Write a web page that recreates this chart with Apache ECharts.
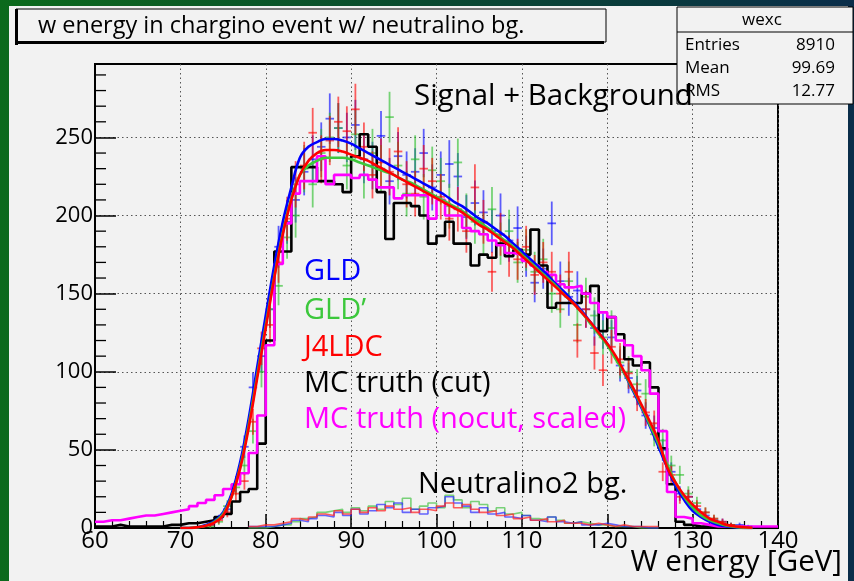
<!DOCTYPE html>
<html>
<head>
<meta charset="utf-8">
<script src="https://cdn.jsdelivr.net/npm/echarts@6/dist/echarts.min.js"></script>
<style>
html,body{margin:0;padding:0;background:#0a4a2a;}
#chart{width:854px;height:581px;}
</style>
</head>
<body>
<div id="chart"></div>
<script>
// ---------------- data ----------------
const binStart = 60;   // first bin left edge (GeV)
const binWidth = 1;    // GeV per bin
const xTickLabels = [60, 70, 80, 90, 100, 110, 120, 130, 140];
const yTickLabels = [0, 50, 100, 150, 200, 250];

// MC truth (cut), bins 60..139
const mcCut = [1,1,2,1,1,1,1,1,2,2, 3,3,4,5,7,9,17,23,25,54,
  120,177,177,231,231,231,222,222,220,215, 238,252,244,215,185,208,208,206,200,182,
  187,196,182,182,168,175,173,182,174,178, 175,191,168,141,144,144,144,150,155,126,
  135,124,108,104,106,90,51,28,4,2, 1,1,0,0,0,0,0,0,0,0];
// MC truth (nocut, scaled), bins 60..139
const mcNocut = [4,5,5,6,7,8,8,9,10,11, 12,14,16,18,21,25,28,35,48,72,
  117,169,195,214,222,222,238,220,226,226, 224,226,223,218,218,211,213,213,213,198,
  210,200,200,192,190,188,184,181,176,175, 171,168,164,162,156,154,155,150,144,138,
  135,120,117,110,101,86,62,23,7,6, 3,2,1,1,1,1,1,1,1,1];

// measured points (bin centres start+0.5), first bin 73
const ptsStart = 73;
const gldPts = [2,6,12,28,52,90,110,140,180,196, 210,228,236,244,262,256,250,258,236,232,
  251,222,238,226,228,240,218,226,233,225, 199,208,202,190,200,184,192,174,157,166,
  195,158,148,152,140,128,126,122,104,96, 88,72,64,50,36,22,20,12,8,5, 4,2,2,1];
const gldpPts = [1,4,14,26,40,62,100,140,155,186, 200,230,220,240,250,256,232,252,226,240,
  230,263,232,214,236,212,229,222,206,234, 200,196,188,204,182,190,170,178,164,172,
  150,140,158,130,148,136,122,128,106,100, 92,86,60,56,40,34,22,16,10,6, 3,2,1,0];
const j4Pts = [2,5,10,22,30,68,115,130,170,198, 220,232,253,236,248,260,254,268,244,226,
  234,228,241,220,214,230,222,212,198,204, 190,218,196,164,188,174,172,180,162,170,
  164,150,164,120,140,112,101,116,108,99, 84,74,67,36,34,20,20,14,10,6, 4,2,1,0];

// fitted curves, values at integer GeV from 70
const fitStart = 70;
const gldFit = [0,0,0.5,2,4.5,10,22,42,70,103, 136,168,196,218,237,244,247,249,249,248,
  246,243,240,237,234,231,228,225,222,219, 216,213,209,206,202,198,195,191,187,182,
  177,172,167,162,156,151,145,139,132,125, 118,109,99,88,77,65,52,39,27,18,
  11,7,4,2,1,0.5,0,0];
const gldpFit = [0,0,0.5,1.5,4,9,20,39,66,98, 130,161,189,211,226,232,235,237,237,237,
  236,234,232,230,228,226,223,221,218,215, 212,209,206,203,199,196,192,188,184,180,
  175,170,165,160,155,149,144,138,131,124, 117,108,99,89,78,66,54,41,29,20,
  13,8,5,3,1.5,0.7,0.2,0];
const j4Fit = [0,0,0.5,1.5,3.5,8,20,38,64,96, 128,160,188,210,226,235,240,242,242,241,
  239,237,235,232,229,226,223,220,217,214, 211,208,205,202,198,194,191,187,183,179,
  174,169,164,159,154,149,144,138,132,125, 118,110,100,90,79,68,56,39,29,21,
  15,10,6,4,2,1,0.5,0.2];

// Neutralino2 background histograms, first bin 78
const bgStart = 78;
const bgGld = [1,1,1,2,3,5,4,6,8,7, 10,8,12,9,11,15,13,16,10,12, 9,13,14,20,16,14,10,13,9,10,
  7,6,8,5,4,7,4,3,4,2, 2,3,2,1,1,1,0,0];
const bgGldp = [0,0,1,2,2,4,6,7,10,11, 12,10,13,11,14,12,17,15,19,12, 14,16,13,21,18,13,17,15,11,13,
  9,10,8,6,5,7,5,3,4,3, 2,2,1,1,1,0,0,0];
const bgJ4 = [1,2,2,3,4,6,5,7,9,8, 11,9,12,10,13,11,14,12,13,10, 12,11,14,16,13,15,12,10,11,8,
  9,6,7,5,6,4,5,3,3,2, 3,2,1,2,1,1,1,1];

const yMinorTicks = [10,20,30,40,60,70,80,90,110,120,130,140,160,170,180,190,210,220,230,240,260,270,280,290];

// ---------------- helpers ----------------
function histData(start, vals) {
  const d = vals.map((v, i) => [start + i * binWidth, v]);
  d.push([start + vals.length * binWidth, vals[vals.length - 1]]);
  return d;
}
function ptData(start, vals) {
  return vals.map((v, i) => [start + i * binWidth + binWidth / 2, v]).filter(p => p[1] > 0);
}
function curveData(start, vals) {
  return vals.map((v, i) => [start + i, v]);
}

const FONT = "'Open Sans', 'Noto Sans', sans-serif";

function errSeries(name, data, color) {
  return {
    name, type: 'custom', data, z: 3, clip: true,
    renderItem(params, api) {
      const x = api.value(0), v = api.value(1);
      const e = Math.sqrt(v);
      const a = api.coord([x - binWidth / 2, v]);
      const b = api.coord([x + binWidth / 2, v]);
      const t = api.coord([x, v + e]);
      const u = api.coord([x, Math.max(0, v - e)]);
      const st = { stroke: color, lineWidth: 1.8 };
      return { type: 'group', children: [
        { type: 'line', shape: { x1: a[0], y1: a[1], x2: b[0], y2: b[1] }, style: st },
        { type: 'line', shape: { x1: t[0], y1: t[1], x2: u[0], y2: u[1] }, style: st }
      ]};
    }
  };
}
function histSeries(name, start, vals, color, width, z) {
  return { name, type: 'line', step: 'end', data: histData(start, vals), symbol: 'none',
    lineStyle: { color, width }, z, animation: false, clip: true };
}
function fitSeries(name, vals, color, z) {
  return { name, type: 'line', smooth: 0.4, data: curveData(fitStart, vals), symbol: 'none',
    lineStyle: { color, width: 2.6 }, z, clip: true };
}

const chart = echarts.init(document.getElementById('chart'), null, { renderer: 'canvas' });

const option = {
  animation: false,
  backgroundColor: 'transparent',
  grid: { left: 95, right: 76, top: 64, bottom: 53, show: true, backgroundColor: '#f2f2f2',
          borderColor: '#000', borderWidth: 2 },
  xAxis: {
    type: 'value', min: 60, max: 140, interval: 10,
    axisLine: { show: true, onZero: false, lineStyle: { color: '#000', width: 2 } },
    axisTick: { show: true, inside: true, length: 14, lineStyle: { color: '#000', width: 1.5 } },
    minorTick: { show: true, splitNumber: 5, length: 7, lineStyle: { color: '#000', width: 1.2 } },
    axisLabel: { color: '#000', fontSize: 24, fontFamily: FONT, margin: 1,
      formatter: v => xTickLabels.includes(v) ? String(v) : '' },
    splitLine: { show: true, lineStyle: { color: '#555', width: 1, type: [1.5, 3] } }
  },
  yAxis: {
    type: 'value', min: 0, max: 297, interval: 50,
    axisLine: { show: true, lineStyle: { color: '#000', width: 2 } },
    axisTick: { show: true, inside: true, length: 21, lineStyle: { color: '#000', width: 1.5 } },
    axisLabel: { color: '#000', fontSize: 22, fontFamily: FONT, margin: 2, showMaxLabel: false,
      formatter: v => yTickLabels.includes(v) ? String(v) : '' },
    splitLine: { show: true, showMaxLine: false, showMinLine: false,
      lineStyle: { color: '#555', width: 1, type: [1.5, 3] } }
  },
  series: [
    {
      name: 'yminor', type: 'custom', data: yMinorTicks.map(v => [60, v]), z: 1, silent: true,
      renderItem(params, api) {
        const p = api.coord([api.value(0), api.value(1)]);
        return { type: 'line', shape: { x1: p[0], y1: p[1], x2: p[0] + 11, y2: p[1] },
                 style: { stroke: '#000', lineWidth: 1.3 } };
      }
    },
    histSeries('bgGLDp', bgStart, bgGldp, 'rgba(90,200,90,0.8)', 1.6, 2),
    histSeries('bgGLD', bgStart, bgGld, 'rgba(40,40,255,0.7)', 1.6, 2),
    histSeries('bgJ4', bgStart, bgJ4, 'rgba(255,40,40,0.75)', 1.6, 2),
    errSeries('GLD points', ptData(ptsStart, gldPts), 'rgba(0,0,255,0.62)'),
    errSeries("GLD' points", ptData(ptsStart, gldpPts), 'rgba(40,190,40,0.62)'),
    errSeries('J4LDC points', ptData(ptsStart, j4Pts), 'rgba(255,0,0,0.62)'),
    histSeries('MC truth (cut)', binStart, mcCut, '#000', 2.6, 5),
    histSeries('MC truth (nocut, scaled)', binStart, mcNocut, '#ff00ff', 2.6, 6),
    fitSeries('GLD fit', gldFit, '#0000ff', 7),
    fitSeries("GLD' fit", gldpFit, '#3cc83c', 7),
    fitSeries('J4LDC fit', j4Fit, '#ff0000', 8)
  ],
  graphic: [
    { type: 'rect', z: -20, shape: { x: 0, y: 0, width: 854, height: 581 },
      style: { fill: new echarts.graphic.LinearGradient(0, 0, 1, 0, [
        { offset: 0, color: '#0c6a1c' }, { offset: 0.5, color: '#0a4a30' }, { offset: 1, color: '#0a2d4a' }]) } },
    { type: 'rect', z: -19, shape: { x: 9, y: 6, width: 839, height: 575 }, style: { fill: '#f2f2f2' } },
    // title box
    { type: 'rect', z: 10, shape: { x: 16, y: 9, width: 590, height: 33 },
      style: { fill: '#f2f2f2', stroke: '#000', lineWidth: 1 } },
    { type: 'rect', z: 10, shape: { x: 15, y: 9, width: 3, height: 36 }, style: { fill: '#000' } },
    { type: 'rect', z: 10, shape: { x: 15, y: 41, width: 589, height: 3 }, style: { fill: '#000' } },
    { type: 'text', z: 11, style: { x: 38, y: 26, text: 'w energy in chargino event w/ neutralino bg.',
      font: '23.5px ' + FONT, fill: '#000', textVerticalAlign: 'middle' } },
    // stats box
    { type: 'rect', z: 10, shape: { x: 677, y: 7, width: 176, height: 97 },
      style: { fill: '#f2f2f2', stroke: '#000', lineWidth: 1 } },
    { type: 'line', z: 11, shape: { x1: 677, y1: 32, x2: 853, y2: 32 }, style: { stroke: '#000', lineWidth: 1 } },
    { type: 'text', z: 11, style: { x: 762, y: 20, text: 'wexc', font: '17px ' + FONT, fill: '#000',
      textAlign: 'center', textVerticalAlign: 'middle' } },
    { type: 'text', z: 11, style: { x: 685, y: 45, text: 'Entries', font: '17px ' + FONT, fill: '#000', textVerticalAlign: 'middle' } },
    { type: 'text', z: 11, style: { x: 835, y: 45, text: '8910', font: '17px ' + FONT, fill: '#000', textAlign: 'right', textVerticalAlign: 'middle' } },
    { type: 'text', z: 11, style: { x: 685, y: 68, text: 'Mean', font: '17px ' + FONT, fill: '#000', textVerticalAlign: 'middle' } },
    { type: 'text', z: 11, style: { x: 835, y: 68, text: '99.69', font: '17px ' + FONT, fill: '#000', textAlign: 'right', textVerticalAlign: 'middle' } },
    { type: 'text', z: 11, style: { x: 685, y: 91, text: 'RMS', font: '17px ' + FONT, fill: '#000', textVerticalAlign: 'middle' } },
    { type: 'text', z: 11, style: { x: 835, y: 91, text: '12.77', font: '17px ' + FONT, fill: '#000', textAlign: 'right', textVerticalAlign: 'middle' } },
    // annotations
    { type: 'text', z: 12, style: { x: 414, y: 97, text: 'Signal + Background', font: '29.5px ' + FONT, fill: '#000', textVerticalAlign: 'middle' } },
    { type: 'text', z: 12, style: { x: 304, y: 272, text: 'GLD', font: '29px ' + FONT, fill: '#0000ff', textVerticalAlign: 'middle' } },
    { type: 'text', z: 12, style: { x: 304, y: 311, text: 'GLD\u2019', font: '29px ' + FONT, fill: '#3cc83c', textVerticalAlign: 'middle' } },
    { type: 'text', z: 12, style: { x: 304, y: 348, text: 'J4LDC', font: '29px ' + FONT, fill: '#ff0000', textVerticalAlign: 'middle' } },
    { type: 'text', z: 12, style: { x: 304, y: 384, text: 'MC truth (cut)', font: '29px ' + FONT, fill: '#000', textVerticalAlign: 'middle' } },
    { type: 'text', z: 12, style: { x: 304, y: 420, text: 'MC truth (nocut, scaled)', font: '29px ' + FONT, fill: '#ff00ff', textVerticalAlign: 'middle' } },
    { type: 'text', z: 12, style: { x: 418, y: 485, text: 'Neutralino2 bg.', font: '29px ' + FONT, fill: '#000', textVerticalAlign: 'middle' } },
    { type: 'text', z: 12, style: { x: 842, y: 563, text: 'W energy [GeV]', font: '29.5px ' + FONT, fill: '#000', textAlign: 'right', textVerticalAlign: 'middle' } }
  ]
};
chart.setOption(option);
</script>
</body>
</html>
